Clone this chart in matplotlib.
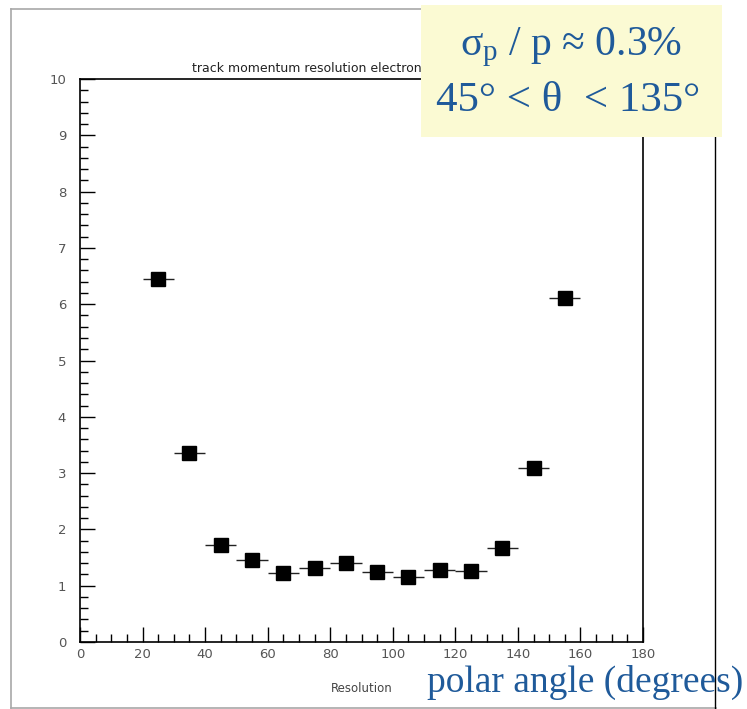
import matplotlib
matplotlib.use("Agg")
import matplotlib.pyplot as plt
from matplotlib.ticker import MultipleLocator
from matplotlib.patches import Rectangle
from matplotlib.lines import Line2D

plt.rcParams["mathtext.fontset"] = "custom"
plt.rcParams["mathtext.rm"] = "Liberation Serif"
plt.rcParams["mathtext.it"] = "Liberation Serif"
plt.rcParams["mathtext.bf"] = "Liberation Serif:bold"

# data
angle = [25, 35, 45, 55, 65, 75, 85, 95, 105, 115, 125, 135, 145, 155]
resolution = [6.45, 3.36, 1.72, 1.46, 1.22, 1.31, 1.40, 1.25, 1.15, 1.27, 1.26, 1.67, 3.09, 6.11]
bin_half_width = [5] * len(angle)

title = "track momentum resolution electrons"
xlabel = "Resolution"

W, H = 747, 709
fig = plt.figure(figsize=(W / 100, H / 100), dpi=100)
fig.patch.set_facecolor("white")

def fx(px):
    return px / W

def fy(py):
    return 1 - py / H

# canvas frame
fig.add_artist(Line2D([fx(10.5), fx(10.5)], [fy(9), fy(708)], color="#a8a8a8", lw=1.2))
fig.add_artist(Line2D([fx(10.5), fx(716)], [fy(9), fy(9)], color="#a8a8a8", lw=1.2))
fig.add_artist(Line2D([fx(10.5), fx(716)], [fy(708), fy(708)], color="#a8a8a8", lw=1.2))
fig.add_artist(Line2D([fx(714.5), fx(714.5)], [fy(9), fy(709)], color="black", lw=1.0))

ax = fig.add_axes([fx(80), fy(642), fx(643) - fx(80), fy(79) - fy(642)])
ax.errorbar(angle, resolution, xerr=bin_half_width, fmt="s", color="black",
            markersize=9.5, elinewidth=1.0, capsize=0, ecolor="#222222")
ax.set_xlim(0, 180)
ax.set_ylim(0, 10)
ax.xaxis.set_major_locator(MultipleLocator(20))
ax.xaxis.set_minor_locator(MultipleLocator(5))
ax.yaxis.set_major_locator(MultipleLocator(1))
ax.yaxis.set_minor_locator(MultipleLocator(0.2))
ax.tick_params(which="both", direction="in", color="black", width=1.0,
               labelsize=9.5, labelcolor="#555555")
ax.tick_params(which="major", length=11)
ax.tick_params(which="minor", length=5.5)
ax.tick_params(axis="x", pad=4)
ax.tick_params(axis="y", pad=10)
for s in ax.spines.values():
    s.set_linewidth(1.2)
    s.set_color("black")

fig.text(fx(310), fy(68), title, ha="center", va="center", fontsize=9,
         color="#222222", family="DejaVu Sans")
fig.text(fx(362), fy(689), xlabel, ha="center", va="center", fontsize=8.5,
         color="#444444", family="DejaVu Sans")

# annotation box
fig.add_artist(Rectangle((fx(421), fy(137)), fx(722) - fx(421), fy(5) - fy(137),
                         facecolor="#fbfad3", edgecolor="none", zorder=5,
                         transform=fig.transFigure))
blue = "#1f5a9a"
fig.text(fx(571), fy(47), r"$\sigma_{\mathrm{p}}$ / p ≈ 0.3%", ha="center", va="center",
         fontsize=30, color=blue, family="Liberation Serif", zorder=6)
fig.text(fx(568), fy(101), "45° < θ  < 135°", ha="center", va="center",
         fontsize=31, color=blue, family="Liberation Serif", zorder=6)
fig.text(fx(585), fy(682), "polar angle (degrees)", ha="center", va="center",
         fontsize=27, color=blue, family="Liberation Serif", zorder=6)

fig.savefig("out.png", dpi=100)
